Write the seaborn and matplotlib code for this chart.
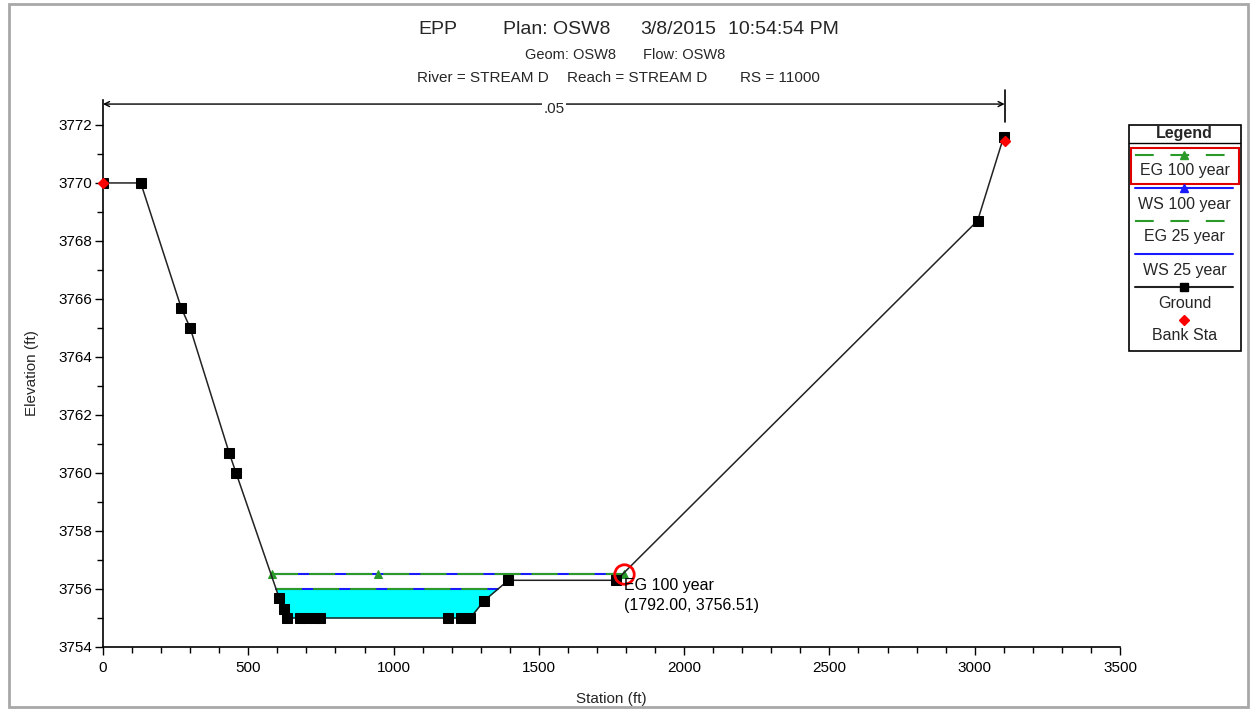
import numpy as np
import matplotlib
matplotlib.use("Agg")
import matplotlib.pyplot as plt
import seaborn as sns
from matplotlib.patches import Rectangle
from matplotlib.ticker import MultipleLocator

# ---------------- data ----------------
ground_sta = [0, 130, 269, 300, 434, 458, 606, 623, 634, 678, 702, 730, 747,
              1188, 1233, 1264, 1312, 1395, 1767, 3010, 3100]
ground_elev = [3770.0, 3770.0, 3765.7, 3765.0, 3760.7, 3760.0, 3755.7, 3755.3,
               3755.0, 3755.0, 3755.0, 3755.0, 3755.0, 3755.0, 3755.0, 3755.0,
               3755.6, 3756.3, 3756.3, 3768.7, 3771.6]
bank_sta = [0, 3103]
bank_elev = [3770.0, 3771.45]
eg100_sta = [581, 946, 1792]
eg100_elev = [3756.51, 3756.51, 3756.51]
ws100_elev = 3756.51
eg25_elev = 3756.0
ws25_elev = 3756.0
n_value_label = ".05"
annot_sta, annot_elev = 1792.00, 3756.51

title_parts = [("EPP", 418), ("Plan: OSW8", 503), ("3/8/2015", 640), ("10:54:54 PM", 728)]
sub_parts = [("Geom: OSW8", 525), ("Flow: OSW8", 643)]
third_parts = [("River = STREAM D", 417), ("Reach = STREAM D", 567), ("RS = 11000", 740)]
legend_labels = ["EG 100 year", "WS 100 year", "EG 25 year", "WS 25 year", "Ground", "Bank Sta"]

# ---------------- style ----------------
sns.set_style("ticks")
plt.rcParams['font.family'] = ['Liberation Sans', 'DejaVu Sans']

W, H = 1252, 710
fig = plt.figure(figsize=(W / 100, H / 100), dpi=100)
fig.patch.set_facecolor("white")

def fx(px):
    return px / W

def fy(py):
    return 1 - py / H

GREEN = "#2a9a2a"
BLUE = "#1a1aff"
DASH = (0, (12.5, 5.3))

ax = fig.add_axes([fx(103), fy(647), fx(1120) - fx(103), fy(100) - fy(647)])
ax.set_facecolor("white")
ax.set_xlim(0, 3500)
ax.set_ylim(3754, 3772.86)

gs = np.array(ground_sta, float)
ge = np.array(ground_elev, float)


def wet_extent(level):
    xs = []
    for i in range(len(gs) - 1):
        a, b = ge[i] - level, ge[i + 1] - level
        if a * b < 0:
            t = a / (a - b)
            xs.append(gs[i] + t * (gs[i + 1] - gs[i]))
    return min(xs), max(xs)


# water fill (lower profile)
ax.fill_between(gs, ge, ws25_elev, where=ge < ws25_elev, interpolate=True,
                color="#00ffff", linewidth=0, zorder=1)

# water surfaces
l25, r25 = wet_extent(ws25_elev)
ax.plot([l25, r25], [ws25_elev, ws25_elev], color=BLUE, lw=1.5, zorder=2)
ax.plot([l25, r25], [eg25_elev, eg25_elev], color=GREEN, lw=1.5, ls=DASH, zorder=3)
l100, r100 = wet_extent(ws100_elev)
ax.plot([l100, r100], [ws100_elev, ws100_elev], color=BLUE, lw=1.5, zorder=2)
sns.lineplot(x=eg100_sta, y=eg100_elev, ax=ax, color=GREEN, lw=1.5, linestyle=DASH,
             marker="^", markersize=6, markeredgecolor=GREEN, estimator=None,
             sort=False, zorder=3)

# ground
sns.lineplot(x=ground_sta, y=ground_elev, ax=ax, color="#222222", lw=1.1,
             marker="s", markersize=6.5, markerfacecolor="black",
             markeredgecolor="black", estimator=None, sort=False, zorder=4)
# bank stations
ax.plot(bank_sta, bank_elev, ls="none", marker="D", markersize=5.5,
        color="red", markeredgecolor="red", zorder=5, clip_on=False)

# highlight circle + annotation
ax.plot([annot_sta], [annot_elev], marker="o", markersize=14, mfc="none",
        mec="red", mew=2, zorder=6)
ax.annotate(f"EG 100 year\n({annot_sta:.2f}, {annot_elev:.2f})",
            xy=(annot_sta, annot_elev), xytext=(0.5, -3), textcoords="offset points",
            ha="left", va="top", fontsize=11.5, linespacing=1.35, color="black",
            zorder=7)

# n-value bracket
y_top = ax.get_ylim()[1]
y_br = y_top - 0.14
ax.annotate("", xy=(0, y_br), xytext=(bank_sta[1], y_br),
            arrowprops=dict(arrowstyle="<->", lw=1.0, color="black",
                            shrinkA=0, shrinkB=0, mutation_scale=9),
            annotation_clip=False)
ax.plot([bank_sta[1], bank_sta[1]], [y_br - 0.62, y_br + 0.5], color="black",
        lw=1.2, clip_on=False)
ax.text(bank_sta[1] / 2, y_br - 0.18, n_value_label, ha="center", va="center",
        fontsize=11, bbox=dict(facecolor="white", edgecolor="none", pad=1.0),
        zorder=6)

# axes styling
sns.despine(ax=ax)
for s in ("left", "bottom"):
    ax.spines[s].set_color("black")
    ax.spines[s].set_linewidth(1.2)
ax.xaxis.set_major_locator(MultipleLocator(500))
ax.xaxis.set_minor_locator(MultipleLocator(100))
ax.yaxis.set_major_locator(MultipleLocator(2))
ax.yaxis.set_minor_locator(MultipleLocator(1))
ax.tick_params(which="major", direction="out", length=6, width=1, colors="black",
               labelsize=11)
ax.tick_params(which="minor", direction="out", length=4, width=1, colors="black")
ax.tick_params(axis="y", pad=2)
ax.tick_params(axis="x", pad=4)
ax.set_xlabel("Station (ft)", fontsize=11, labelpad=12)
ax.set_ylabel("Elevation (ft)", fontsize=11, labelpad=14)
ax.grid(False)

# titles
for txt, x in title_parts:
    fig.text(fx(x), fy(29), txt, ha="left", va="center", fontsize=14)
for txt, x in sub_parts:
    fig.text(fx(x), fy(55), txt, ha="left", va="center", fontsize=10.5)
for txt, x in third_parts:
    fig.text(fx(x), fy(78), txt, ha="left", va="center", fontsize=11)

# legend panel
lax = fig.add_axes([fx(1128), fy(351), fx(1241) - fx(1128), fy(124) - fy(351)])
lax.set_xlim(1128, 1241)
lax.set_ylim(351, 124)
lax.axis("off")
lax.add_patch(Rectangle((1128.5, 124.5), 112, 226, fill=False, ec="black", lw=1.2,
                        clip_on=False))
lax.plot([1128.5, 1240.5], [143, 143], color="black", lw=1)
lax.text(1184.5, 133.5, "Legend", ha="center", va="center", fontsize=11.5,
         fontweight="bold")
lax.add_patch(Rectangle((1131, 148), 108, 36, fill=False, ec="#e00000", lw=1.5))
xs_line = [1135, 1233]
samples = [155, 188, 221, 254, 287, 320]
texts = [171, 205, 237, 270, 303, 335]
lax.plot(xs_line, [samples[0]] * 2, color=GREEN, lw=1.5, ls=(0, (9, 8)))
lax.plot([1184], [samples[0]], marker="^", color=GREEN, markersize=6)
lax.plot(xs_line, [samples[1]] * 2, color=BLUE, lw=1.5)
lax.plot([1184], [samples[1]], marker="^", color=BLUE, markersize=6)
lax.plot(xs_line, [samples[2]] * 2, color=GREEN, lw=1.5, ls=(0, (9, 8)))
lax.plot(xs_line, [samples[3]] * 2, color=BLUE, lw=1.5)
lax.plot(xs_line, [samples[4]] * 2, color="#222222", lw=1.5)
lax.plot([1184], [samples[4]], marker="s", color="black", markersize=6)
lax.plot([1184], [samples[5]], marker="D", color="red", markersize=5.5)
for lab, y in zip(legend_labels, texts):
    lax.text(1184.5, y, lab, ha="center", va="center", fontsize=11.5)

# outer frame
fig.patches.append(Rectangle((fx(9), fy(707)), fx(1248) - fx(9), fy(4) - fy(707),
                             transform=fig.transFigure, fill=False,
                             ec="#a8a8a8", lw=2))

fig.savefig("out.png", dpi=100)
